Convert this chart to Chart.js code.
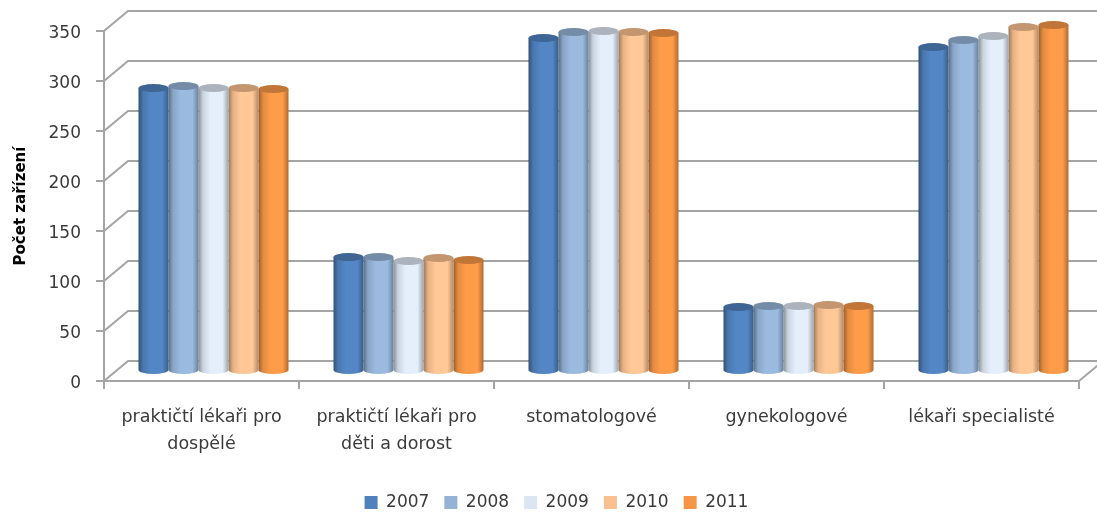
<!DOCTYPE html>
<html>
<head>
<meta charset="utf-8">
<script src="https://cdn.jsdelivr.net/npm/chart.js@4/dist/chart.umd.js"></script>
<style>
html,body{margin:0;padding:0;background:#fff;}
#wrap{width:1097px;height:513px;}
/* the reference is a slightly soft screenshot */
#chart{filter:blur(0.5px);}
</style>
</head>
<body>
<div id="wrap"><canvas id="chart"></canvas></div>
<script>

const categories = [
["praktičtí lékaři pro","dospělé"],
["praktičtí lékaři pro","děti a dorost"],
"stomatologové",
"gynekologové",
"lékaři specialisté"
]

const years = ["2007","2008","2009","2010","2011"]

const values2007 = [283,114,333,64,324]
const values2008 = [285,114,339,65,331]
const values2009 = [283,110,340,65,335]
const values2010 = [283,113,339,66,344]
const values2011 = [282,111,338,65,346]

const tickLabels = [0,50,100,150,200,250,300,350]

const colors = ["#4f81bd","#95b3d7","#dce6f2","#fac090","#f79646"]

const gridColor = "#a4a4a4"
const textColor = "#3a3a3a"
const font = "DejaVu Sans"

// 3d look: back wall offset, bars stand half way
const depthX = 24
const depthY = 20


function shade(hex,f){
const n = parseInt(hex.slice(1),16)
const c = [n>>16,(n>>8)&255,n&255].map(v=>Math.min(255,Math.round(v*f)))
return `rgb(${c[0]},${c[1]},${c[2]})`
}


// bars are drawn as cylinders instead of flat rectangles
Chart.BarElement.prototype.draw = function(ctx){

const col = this.options.backgroundColor
const w = this.width
const cx = this.x + depthX/2
const top = this.y - depthY/2
const base = this.base - depthY/2
const left = cx - w/2
const ry = 4

const grad = ctx.createLinearGradient(left,0,left+w,0)
grad.addColorStop(0,shade(col,0.62))
grad.addColorStop(0.15,shade(col,0.92))
grad.addColorStop(0.4,shade(col,1.04))
grad.addColorStop(0.8,shade(col,1.04))
grad.addColorStop(1,shade(col,0.72))

ctx.save()

ctx.fillStyle = grad
ctx.beginPath()
ctx.moveTo(left,top)
ctx.lineTo(left,base)
ctx.ellipse(cx,base,w/2,ry,0,Math.PI,0,true)
ctx.lineTo(left+w,top)
ctx.closePath()
ctx.fill()

ctx.fillStyle = shade(col,0.78)
ctx.beginPath()
ctx.ellipse(cx,top,w/2,ry,0,0,Math.PI*2)
ctx.fill()

ctx.restore()
}


const walls = {

id:"walls",

afterLayout(chart){

// legend sits lower and a bit right of the middle
chart.legend.left += 17
chart.legend.right += 17
chart.legend.top += 8
chart.legend.bottom += 8

// y labels sit a little under their tick marks
const y = chart.scales.y
if(!y.shifted){
y.shifted = true
const drawLabels = y.drawLabels
y.drawLabels = function(area){
chart.ctx.save()
chart.ctx.translate(0,3)
drawLabels.call(y,area)
chart.ctx.restore()
}
}

},

beforeDatasetsDraw(chart){

const ctx = chart.ctx
const y = chart.scales.y
const a = chart.chartArea

ctx.save()
ctx.strokeStyle = gridColor
ctx.lineWidth = 2

tickLabels.forEach(t=>{
const py = y.getPixelForValue(t)
ctx.beginPath()
ctx.moveTo(a.left,py)
ctx.lineTo(a.left+depthX,py-depthY)
ctx.lineTo(a.right+depthX,py-depthY)
ctx.stroke()
})

ctx.beginPath()
ctx.moveTo(a.right,a.bottom)
ctx.lineTo(a.right+depthX,a.bottom-depthY)
ctx.stroke()

ctx.restore()
}

}


new Chart(document.getElementById("chart"),{

type:"bar",

plugins:[walls],

data:{

labels:categories,

datasets:[
{label:years[0],data:values2007,backgroundColor:colors[0]},
{label:years[1],data:values2008,backgroundColor:colors[1]},
{label:years[2],data:values2009,backgroundColor:colors[2]},
{label:years[3],data:values2010,backgroundColor:colors[3]},
{label:years[4],data:values2011,backgroundColor:colors[4]}
]

},

options:{

responsive:true,
maintainAspectRatio:false,
animation:false,

layout:{padding:{top:31,right:18,left:0,bottom:0}},

datasets:{bar:{barPercentage:1,categoryPercentage:150/195,clip:false}},

plugins:{
tooltip:{enabled:false},
legend:{
position:"bottom",
labels:{
boxWidth:13,
boxHeight:13,
padding:15,
color:textColor,
font:{family:font,size:17}
}
}
},

scales:{

x:{
afterFit(s){s.height = 90},
grid:{offset:true,drawOnChartArea:false,color:gridColor,lineWidth:2,tickLength:8},
border:{color:gridColor,width:2},
ticks:{
color:textColor,
maxRotation:0,
autoSkip:false,
padding:15,
font:{family:font,size:17.5,lineHeight:1.55}
}
},

y:{
min:0,
max:350,
afterFit(s){s.width = 104},
afterBuildTicks(s){s.ticks = tickLabels.map(v=>({value:v}))},
grid:{drawOnChartArea:false,color:gridColor,lineWidth:2,tickLength:8},
border:{color:gridColor,width:2},
title:{
display:true,
text:"Počet zařízení",
color:"#000000",
padding:{top:12,bottom:0},
font:{family:font,size:15,weight:"bold"}
},
ticks:{
color:textColor,
padding:15,
font:{family:font,size:17}
}
}

}

}

})

</script>
</body>
</html>
